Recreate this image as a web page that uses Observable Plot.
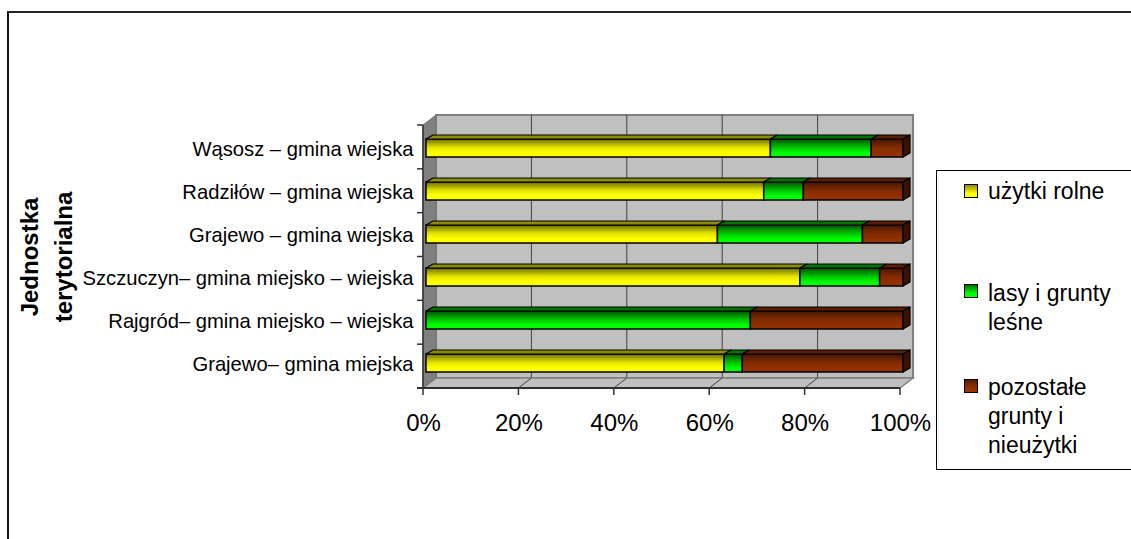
<!DOCTYPE html>
<html>
<head>
<meta charset="utf-8">
<script src="https://cdn.jsdelivr.net/npm/d3@7"></script>
<script src="https://cdn.jsdelivr.net/npm/@observablehq/plot@0.6"></script>
<style>
  html, body { margin: 0; padding: 0; background: #fff; overflow: hidden; }
  #wrap { position: relative; width: 1131px; height: 539px; overflow: hidden; font-family: "Liberation Sans", Arial, sans-serif; }
  #frame { position: absolute; left: 7px; top: 11px; width: 1200px; height: 600px; border-left: 2px solid #111; border-top: 2px solid #222; }
  #chart { position: absolute; left: 0; top: 0; }
  #ytitle { position: absolute; left: -53px; top: 223px; width: 200px; height: 68px; transform: rotate(-90deg);
            text-align: center; font-weight: bold; font-size: 24px; line-height: 34px; color: #000; }
  #legend { position: absolute; left: 936px; top: 170px; width: 260px; height: 298px; border: 1px solid #000; background: #fff; }
  .item { position: absolute; left: 51px; font-size: 23px; line-height: 29px; color: #000; }
  .sw { position: absolute; left: 27px; width: 12px; height: 12px; border: 1px solid #000; }
</style>
</head>
<body>
<div id="wrap">
  <div id="frame"></div>
  <div id="chart"></div>
  <div id="ytitle">Jednostka<br>terytorialna</div>
  <div id="legend"></div>
</div>
<script>
// ---- data ----
const categories = [
  "Wąsosz – gmina wiejska",
  "Radziłów – gmina wiejska",
  "Grajewo – gmina wiejska",
  "Szczuczyn– gmina miejsko – wiejska",
  "Rajgród– gmina miejsko – wiejska",
  "Grajewo– gmina miejska"
];
const seriesNames = ["użytki rolne", "lasy i grunty leśne", "pozostałe grunty i nieużytki"];
const uzytkiRolne = [72.2, 70.8, 61.1, 78.4, 0, 62.5];
const lasyGrunty  = [21.1, 8.3, 30.4, 16.7, 68.0, 3.8];
const pozostale   = [6.7, 20.9, 8.5, 4.9, 32.0, 33.7];
const xTicks = [0, 20, 40, 60, 80, 100];

// ---- table built from arrays ----
const seriesValues = [uzytkiRolne, lasyGrunty, pozostale];
const rows = [];
categories.forEach((name, i) => {
  let acc = 0;
  seriesValues.forEach((vals, s) => {
    const v = vals[i];
    rows.push({name, series: seriesNames[s], s, x1: acc, x2: acc + v, value: v, last: s === seriesValues.length - 1});
    acc += v;
  });
});
const barRows = rows.filter(d => d.value > 0);

// ---- styling constants ----
const gradIds = ["gY", "gG", "gB"];
const topFace = ["#8c8c00", "#007400", "#5a1e00"];
const DX = 13, DY = 10;      // wall depth
const BDX = 7, BDY = 4;      // bar depth
const BOFF = 3, BOFFY = -1;  // bar offset from front plane

function defsMark() {
  const defs = d3.create("svg:defs");
  const stops = [
    [["0%", "#6a6a00"], ["45%", "#e0e000"], ["75%", "#ffff00"], ["100%", "#ffff00"]],
    [["0%", "#005000"], ["50%", "#00cc00"], ["80%", "#00ff00"], ["100%", "#00ff00"]],
    [["0%", "#461600"], ["50%", "#842c00"], ["100%", "#993300"]]
  ];
  stops.forEach((st, k) => {
    const g = defs.append("linearGradient").attr("id", gradIds[k])
      .attr("x1", 0).attr("y1", 0).attr("x2", 0).attr("y2", 1);
    st.forEach(([o, c]) => g.append("stop").attr("offset", o).attr("stop-color", c));
  });
  return defs.node();
}

function decorMark(index, scales, values, dims) {
  const x = scales.x;
  const top = dims.marginTop, bottom = dims.height - dims.marginBottom;
  const x0 = x(0), x100 = x(100);
  const g = d3.create("svg:g");
  // back wall
  g.append("rect").attr("x", x0 + DX).attr("y", top - DY).attr("width", x100 - x0).attr("height", bottom - top)
    .attr("fill", "#c0c0c0").attr("stroke", "#808080").attr("stroke-width", 2);
  // gridlines on back wall
  xTicks.slice(1, -1).forEach(t => {
    g.append("line").attr("x1", x(t) + DX).attr("x2", x(t) + DX).attr("y1", top - DY).attr("y2", bottom - DY)
      .attr("stroke", "#404040").attr("stroke-width", 1);
  });
  // floor
  g.append("path").attr("d", `M${x0},${bottom}L${x0 + DX},${bottom - DY}L${x100 + DX},${bottom - DY}L${x100},${bottom}Z`)
    .attr("fill", "#c0c0c0").attr("stroke", "#808080").attr("stroke-width", 1.5);
  xTicks.slice(1, -1).forEach(t => {
    g.append("line").attr("x1", x(t) + DX).attr("y1", bottom - DY).attr("x2", x(t)).attr("y2", bottom)
      .attr("stroke", "#404040").attr("stroke-width", 1);
  });
  // left wall
  g.append("path").attr("d", `M${x0},${top}L${x0 + DX},${top - DY}L${x0 + DX},${bottom - DY}L${x0},${bottom}Z`)
    .attr("fill", "#808080").attr("stroke", "#707070").attr("stroke-width", 1);
  // front axis lines
  g.append("line").attr("x1", x0).attr("x2", x0).attr("y1", top).attr("y2", bottom).attr("stroke", "#303030").attr("stroke-width", 1.5);
  g.append("line").attr("x1", x0 - 6).attr("x2", x100).attr("y1", bottom).attr("y2", bottom).attr("stroke", "#303030").attr("stroke-width", 2);
  xTicks.forEach(t => {
    g.append("line").attr("x1", x(t)).attr("x2", x(t)).attr("y1", bottom).attr("y2", bottom + 7).attr("stroke", "#303030").attr("stroke-width", 1.5);
  });
  // category boundary ticks
  for (let k = 0; k <= categories.length; k++) {
    const yy = top + k * ((bottom - top) / categories.length);
    g.append("line").attr("x1", x0 - 6).attr("x2", x0).attr("y1", yy).attr("y2", yy).attr("stroke", "#303030").attr("stroke-width", 1.5);
  }
  return g.node();
}

function facesMark(index, scales, values, dims) {
  const x = scales.x, y = scales.y;
  const g = d3.create("svg:g").attr("stroke", "#000").attr("stroke-width", 1.2).attr("stroke-linejoin", "round");
  barRows.forEach(d => {
    const yt = y(d.name) + BOFFY;
    const bw = y.bandwidth ? y.bandwidth() : 18;
    const a = x(d.x1) + BOFF, b = x(d.x2) + BOFF;
    g.append("path").attr("d", `M${a},${yt}L${a + BDX},${yt - BDY}L${b + BDX},${yt - BDY}L${b},${yt}Z`)
      .attr("fill", topFace[d.s]);
    if (d.last) {
      g.append("path").attr("d", `M${b},${yt}L${b + BDX},${yt - BDY}L${b + BDX},${yt + bw - BDY}L${b},${yt + bw}Z`)
        .attr("fill", "#3a1200");
    }
  });
  return g.node();
}

const chart = Plot.plot({
  width: 1131,
  height: 539,
  marginLeft: 423,
  marginRight: 231,
  marginTop: 125,
  marginBottom: 151,
  style: {background: "transparent", fontFamily: "'Liberation Sans', Arial, sans-serif", color: "#000", overflow: "visible"},
  x: {domain: [0, 100]},
  y: {domain: categories, paddingInner: 0.58, paddingOuter: 0.29},
  color: {domain: seriesNames, range: gradIds.map(id => `url(#${id})`)},
  marks: [
    defsMark,
    decorMark,
    Plot.barX(barRows, {x1: "x1", x2: "x2", y: "name", fill: "series", stroke: "#000", strokeWidth: 1.5, dx: BOFF, dy: BOFFY}),
    facesMark,
    Plot.axisX({ticks: xTicks, tickFormat: d => d + "%", tickSize: 0, tickPadding: 25, fontSize: 24, label: null}),
    Plot.axisY({tickSize: 0, tickPadding: 10, fontSize: 20.2, label: null})
  ]
});
document.getElementById("chart").appendChild(chart);

// ---- legend ----
const legendColors = [
  "linear-gradient(#8a8a00, #ffff00 70%)",
  "linear-gradient(#007000, #00ff00 70%)",
  "linear-gradient(#5a1e00, #993300 70%)"
];
const legendLines = [["użytki rolne"], ["lasy i grunty", "leśne"], ["pozostałe", "grunty i", "nieużytki"]];
const itemTops = [6, 108, 202];
const swTops = [13, 113, 208];
const legend = document.getElementById("legend");
seriesNames.forEach((s, k) => {
  const sw = document.createElement("div");
  sw.className = "sw"; sw.style.top = swTops[k] + "px"; sw.style.background = legendColors[k];
  legend.appendChild(sw);
  const it = document.createElement("div");
  it.className = "item"; it.style.top = itemTops[k] + "px";
  it.innerHTML = legendLines[k].join("<br>");
  legend.appendChild(it);
});
</script>
</body>
</html>
